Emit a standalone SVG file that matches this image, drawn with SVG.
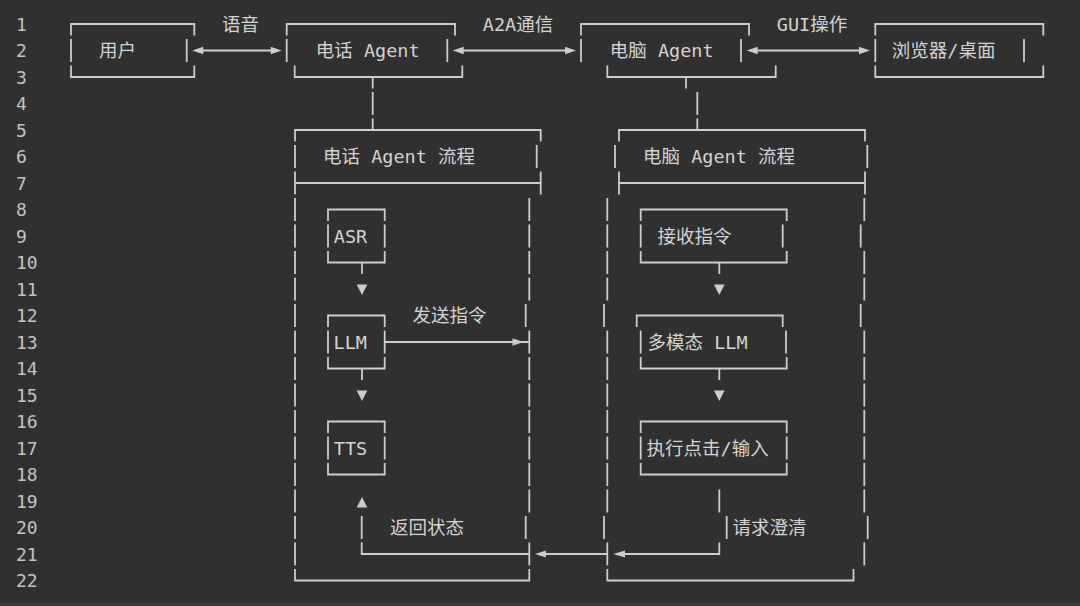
<svg xmlns="http://www.w3.org/2000/svg" width="1080" height="606" viewBox="0 0 1080 606">
<style>
.bg{fill:#303030}
.ln{fill:none;stroke:#cdcdcd;stroke-width:1.8;stroke-linecap:butt}
.vb{stroke-dasharray:23.2 3.3}
.ah{fill:#cdcdcd}
.t{font-family:"DejaVu Sans Mono","Noto Sans CJK SC",monospace;font-size:18.5px;fill:#d4d4d4}
.num{font-family:"DejaVu Sans Mono",monospace;font-size:18px;fill:#c4c4c4}
</style>
<rect class="bg" x="0" y="0" width="1080" height="606"/>
<rect x="0" y="603" width="1080" height="3" fill="#3b3b3b"/>

<g id="line-numbers" class="num">
<text x="16" y="30.5">1</text>
<text x="16" y="57">2</text>
<text x="16" y="83.5">3</text>
<text x="16" y="110">4</text>
<text x="16" y="136.5">5</text>
<text x="16" y="163">6</text>
<text x="16" y="189.5">7</text>
<text x="16" y="216">8</text>
<text x="16" y="242.5">9</text>
<text x="16" y="269">10</text>
<text x="16" y="295.5">11</text>
<text x="16" y="322">12</text>
<text x="16" y="348.5">13</text>
<text x="16" y="375">14</text>
<text x="16" y="401.5">15</text>
<text x="16" y="428">16</text>
<text x="16" y="454.5">17</text>
<text x="16" y="481">18</text>
<text x="16" y="507.5">19</text>
<text x="16" y="534">20</text>
<text x="16" y="560.5">21</text>
<text x="16" y="587">22</text>
</g>

<g id="n-user">
<path class="ln" d="M71 35.6V24H194.3V35.6M71 38.9V62.1M186.7 38.9V62.1M71 65.4V77H194.3V65.4"/>
<text class="t" x="99" y="57">用户</text>
</g>

<g id="n-phone-agent">
<path class="ln" d="M286.7 35.6V24H455V35.6M286.7 38.9V62.1M447.3 38.9V62.1M294.7 65.4V77H462.3V65.4"/>
<text class="t" x="315.8" y="57">电话 Agent</text>
</g>

<g id="n-pc-agent">
<path class="ln" d="M581 35.6V24H749V35.6M581 38.9V62.1M741 38.9V62.1M607.3 65.4V77H775.7V65.4"/>
<text class="t" x="609.8" y="57">电脑 Agent</text>
</g>

<g id="n-browser">
<path class="ln" d="M875.3 35.6V24H1043.3V35.6M875.3 38.9V62.1M1024 38.9V62.1M875.3 65.4V77H1043.3V65.4"/>
<text class="t" x="891.8" y="57">浏览器/桌面</text>
</g>

<g id="n-phone-flow">
<path class="ln" d="M295 141.6V130H540.7V141.6M536.7 144.9V168.1M295 183H540.7M540.7 171.4V194.6M295 568.9V580.5H529.3V568.9M525.7 303.9V327.1M525.7 515.9V539.1M529.3 542.4V565.6"/>
<path class="ln vb" d="M295 144.9V565.6M529.3 197.9V300.6M529.3 330.4V512.6"/>
<text class="t" x="323" y="163">电话 Agent 流程</text>
</g>

<g id="n-pc-flow">
<path class="ln" d="M619 141.6V130H865V141.6M615 144.9V168.1M867.3 144.9V168.1M619 171.4V194.6M619 183H865M865 171.4V194.6M604 303.9V327.1M604 515.9V539.1M607.3 542.4V565.6M607.3 568.9V580.5H853.5V568.9M864.3 197.9V221.1M860.7 224.4V247.6M860.7 303.9V327.1M867.7 515.9V539.1M864.3 542.4V565.6"/>
<path class="ln vb" d="M607.3 197.9V300.6M607.3 330.4V512.6M864.3 250.9V300.6M864.3 330.4V512.6"/>
<text class="t" x="643" y="163">电脑 Agent 流程</text>
</g>

<g id="n-asr">
<path class="ln" d="M328 221.1V209.5H384.7V221.1M328 224.4V247.6M384.7 224.4V247.6M328 250.9V262.5H384.7V250.9"/>
<text class="t" x="333.8" y="242.5">ASR</text>
</g>

<g id="n-llm">
<path class="ln" d="M328 327.1V315.5H384.7V327.1M328 330.4V353.6M384.7 330.4V353.6M328 356.9V368.5H384.7V356.9"/>
<text class="t" x="333.5" y="348.5">LLM</text>
</g>

<g id="n-tts">
<path class="ln" d="M328 433.1V421.5H384.7V433.1M328 436.4V459.6M384.7 436.4V459.6M328 462.9V474.5H384.7V462.9"/>
<text class="t" x="333.8" y="454.5">TTS</text>
</g>

<g id="n-recv">
<path class="ln" d="M640.7 221.1V209.5H786.7V221.1M640.7 224.4V247.6M782.7 224.4V247.6M640.7 250.9V262.5H786.7V250.9"/>
<text class="t" x="657.5" y="242.5">接收指令</text>
</g>

<g id="n-mllm">
<path class="ln" d="M636.7 327.1V315.5H782.7V327.1M640.7 330.4V353.6M786 330.4V353.6M640.7 356.9V368.5H786.7V356.9"/>
<text class="t" x="647.5" y="348.5">多模态 LLM</text>
</g>

<g id="n-exec">
<path class="ln" d="M640.7 433.1V421.5H786.7V433.1M640.7 436.4V459.6M786.7 436.4V459.6M640.7 462.9V474.5H786.7V462.9"/>
<text class="t" x="646.5" y="454.5">执行点击/输入</text>
</g>

<g id="connectors">
<!-- voice -->
<path class="ln" d="M200 50.5H274"/>
<polygon class="ah" points="192.3,50.5 203.3,46.8 203.3,54.2"/>
<polygon class="ah" points="281.7,50.5 270.7,46.8 270.7,54.2"/>
<text class="t" x="222" y="30.5">语音</text>
<!-- A2A -->
<path class="ln" d="M460 50.5H569"/>
<polygon class="ah" points="452.7,50.5 463.7,46.8 463.7,54.2"/>
<polygon class="ah" points="576,50.5 565,46.8 565,54.2"/>
<text class="t" x="482.8" y="30.5">A2A通信</text>
<!-- GUI -->
<path class="ln" d="M754 50.5H863"/>
<polygon class="ah" points="746.7,50.5 757.7,46.8 757.7,54.2"/>
<polygon class="ah" points="870,50.5 859,46.8 859,54.2"/>
<text class="t" x="776.8" y="30.5">GUI操作</text>
<!-- agent to flow -->
<path class="ln" d="M372.7 77V88.6M372.7 91.9V115.1M372.7 118.4V130"/>
<path class="ln" d="M686 77V88.6M697.3 91.9V115.1M697.3 118.4V130"/>
<!-- phone flow arrows -->
<path class="ln" d="M362 262.5V274.1M362 368.5V380.1"/>
<polygon class="ah" points="356.7,284.5 367.3,284.5 362,295"/>
<polygon class="ah" points="356.7,390.5 367.3,390.5 362,401"/>
<!-- send command -->
<path class="ln" d="M384.7 342H529.3"/>
<polygon class="ah" points="512.5,338.3 523.5,342 512.5,345.7"/>
<text class="t" x="412.5" y="322">发送指令</text>
<!-- pc flow arrows -->
<path class="ln" d="M719.3 262.5V274.1M719.3 368.5V380.1"/>
<polygon class="ah" points="714,284.5 724.6,284.5 719.3,295"/>
<polygon class="ah" points="714,390.5 724.6,390.5 719.3,401"/>
<!-- clarification / return status -->
<path class="ln" d="M719.3 489.4V512.6M726.7 515.9V539.1M719.3 542.4V554H622"/>
<polygon class="ah" points="613.3,554 625,550.4 625,557.6"/>
<path class="ln" d="M607.3 554H543"/>
<polygon class="ah" points="535,554 546,550.4 546,557.6"/>
<path class="ln" d="M529.3 554H361.7V542.4M361.7 515.9V539.1"/>
<polygon class="ah" points="356.7,507.5 367.3,507.5 362,497"/>
<text class="t" x="732.5" y="534">请求澄清</text>
<text class="t" x="390" y="534">返回状态</text>
</g>
</svg>
